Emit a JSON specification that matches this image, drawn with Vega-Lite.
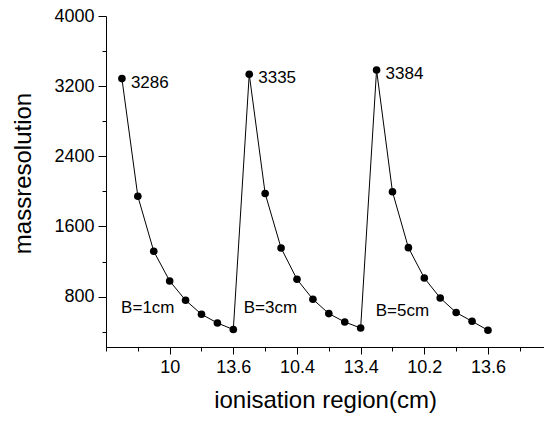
{
  "$schema": "https://vega.github.io/schema/vega-lite/v6.json",
  "width": 438,
  "height": 331,
  "autosize": {"type": "none"},
  "padding": {"left": 106, "top": 16, "right": 0, "bottom": 74},
  "config": {
    "view": {"stroke": null},
    "font": "Liberation Sans",
    "axis": {
      "domainColor": "black",
      "domainWidth": 1,
      "tickColor": "black",
      "tickWidth": 1,
      "grid": false,
      "labelColor": "black",
      "titleColor": "black",
      "labelFont": "Liberation Sans",
      "titleFont": "Liberation Sans",
      "labelFontSize": 18,
      "titleFontSize": 24,
      "titleFontWeight": "normal",
      "labelOverlap": false,
      "labelFlush": false
    }
  },
  "datasets": {
    "pts": [
      {"k": 0, "v": 3286, "label": "3286"},
      {"k": 1, "v": 1944},
      {"k": 2, "v": 1317},
      {"k": 3, "v": 978},
      {"k": 4, "v": 758},
      {"k": 5, "v": 598},
      {"k": 6, "v": 499},
      {"k": 7, "v": 424},
      {"k": 8, "v": 3335, "label": "3335"},
      {"k": 9, "v": 1975},
      {"k": 10, "v": 1354},
      {"k": 11, "v": 997},
      {"k": 12, "v": 769},
      {"k": 13, "v": 606},
      {"k": 14, "v": 510},
      {"k": 15, "v": 442},
      {"k": 16, "v": 3384, "label": "3384"},
      {"k": 17, "v": 1995},
      {"k": 18, "v": 1358},
      {"k": 19, "v": 1012},
      {"k": 20, "v": 784},
      {"k": 21, "v": 618},
      {"k": 22, "v": 518},
      {"k": 23, "v": 416}
    ],
    "notes": [
      {"k": -0.05, "v": 667, "text": "B=1cm"},
      {"k": 7.65, "v": 667, "text": "B=3cm"},
      {"k": 15.95, "v": 632, "text": "B=5cm"}
    ]
  },
  "layer": [
    {
      "data": {"name": "pts"},
      "mark": {"type": "line", "color": "black", "strokeWidth": 1},
      "encoding": {
        "x": {
          "field": "k",
          "type": "quantitative",
          "scale": {"domain": [-1, 26.52], "nice": false, "zero": false},
          "axis": {
            "title": "ionisation region(cm)",
            "values": [-1, 1, 3, 5, 7, 9, 11, 13, 15, 17, 19, 21, 23, 25],
            "tickCount": 100,
            "labelExpr": "datum.value==3?'10':datum.value==7?'13.6':datum.value==11?'10.4':datum.value==15?'13.4':datum.value==19?'10.2':datum.value==23?'13.6':''",
            "tickSize": {"condition": {"test": "datum.value==3||datum.value==7||datum.value==11||datum.value==15||datum.value==19||datum.value==23", "value": 7}, "value": 4},
            "labelPadding": 4,
            "titlePadding": 12
          }
        },
        "y": {
          "field": "v",
          "type": "quantitative",
          "scale": {"domain": [225, 4000], "nice": false, "zero": false},
          "axis": {
            "title": "massresolution",
            "values": [400, 800, 1200, 1600, 2000, 2400, 2800, 3200, 3600, 4000],
            "tickCount": 100,
            "labelExpr": "datum.value==800?'800':datum.value==1600?'1600':datum.value==2400?'2400':datum.value==3200?'3200':datum.value==4000?'4000':''",
            "tickSize": {"condition": {"test": "datum.value==800||datum.value==1600||datum.value==2400||datum.value==3200||datum.value==4000", "value": 8}, "value": 4},
            "labelPadding": 4,
            "titlePadding": 18,
            "titleY": 157
          }
        }
      }
    },
    {
      "data": {"name": "pts"},
      "mark": {"type": "circle", "color": "black", "size": 58, "opacity": 1},
      "encoding": {
        "x": {"field": "k", "type": "quantitative"},
        "y": {"field": "v", "type": "quantitative"}
      }
    },
    {
      "data": {"name": "pts"},
      "transform": [{"filter": "datum.label"}],
      "mark": {"type": "text", "align": "left", "baseline": "middle", "dx": 9, "dy": 4, "fontSize": 17, "color": "black"},
      "encoding": {
        "x": {"field": "k", "type": "quantitative"},
        "y": {"field": "v", "type": "quantitative"},
        "text": {"field": "label"}
      }
    },
    {
      "data": {"name": "notes"},
      "mark": {"type": "text", "align": "left", "baseline": "middle", "fontSize": 17, "color": "black"},
      "encoding": {
        "x": {"field": "k", "type": "quantitative"},
        "y": {"field": "v", "type": "quantitative"},
        "text": {"field": "text"}
      }
    }
  ]
}
